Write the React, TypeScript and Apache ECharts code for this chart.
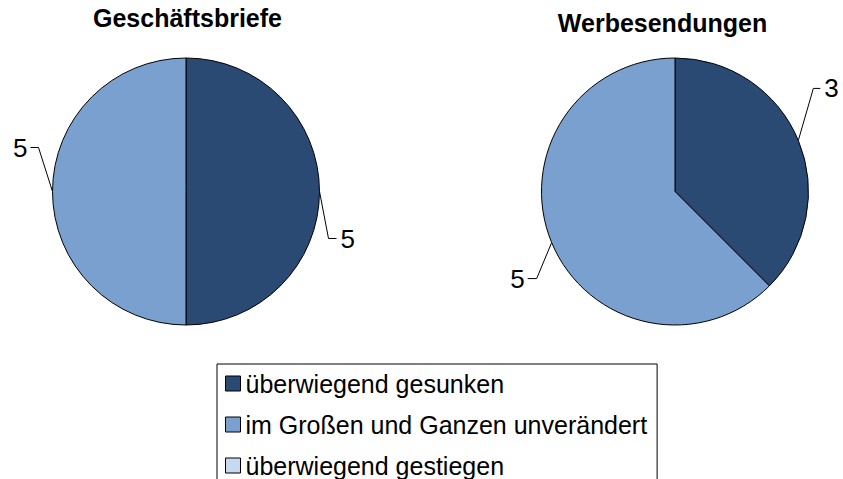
import React, { useEffect, useRef } from "react";
import * as echarts from "echarts";

const categories = [
  "überwiegend gesunken",
  "im Großen und Ganzen unverändert",
  "überwiegend gestiegen",
];
const chartTitles = ["Geschäftsbriefe", "Werbesendungen"];
const geschaeftsbriefeValues = [5, 5, 0];
const werbesendungenValues = [3, 5, 0];

const colors = ["#2a4a74", "#79a0cf", "#c6d9f1"];
const fontFamily = "'Liberation Sans', Arial, sans-serif";

// label line geometry per pie per slice: [elbow dx, elbow dy, horizontal dx]
const labelLineOffsets = [
  [
    [9, 47, 8],
    [-14, -44, -8],
  ],
  [
    [15, -52, 7],
    [-15, 36, -9],
  ],
];
const pieCenters = [
  [186, 191.5],
  [675, 191.5],
];
const pieRadius = 133.5;
const titlePositions = [
  [187.5, 5],
  [662.5, 10],
];

function makeSeries(idx: number, values: number[]) {
  return {
    type: "pie",
    name: chartTitles[idx],
    center: pieCenters[idx],
    radius: pieRadius,
    startAngle: 90,
    clockwise: true,
    avoidLabelOverlap: false,
    stillShowZeroSum: true,
    silent: true,
    itemStyle: { borderColor: "#000", borderWidth: 1 },
    label: {
      show: true,
      position: "outside",
      color: "#000",
      fontSize: 26,
      fontFamily,
      formatter: "{c}",
    },
    labelLine: {
      show: true,
      length: 10,
      length2: 8,
      smooth: false,
      lineStyle: { color: "#000", width: 1 },
    },
    labelLayout: (params: any) => {
      const off = labelLineOffsets[idx][params.dataIndex];
      const pts = params.labelLinePoints;
      if (!off || !pts || !pts.length) return {};
      const x0 = pts[0][0];
      const y0 = pts[0][1];
      const ex = x0 + off[0];
      const ey = y0 + off[1];
      const hx = ex + off[2];
      const right = off[2] > 0;
      return {
        x: hx + (right ? 4 : -3),
        y: ey,
        align: right ? "left" : "right",
        verticalAlign: "middle",
        labelLinePoints: [
          [x0, y0],
          [ex, ey],
          [hx, ey],
        ],
      };
    },
    data: categories.map((name, i) =>
      values[i] > 0
        ? { name, value: values[i] }
        : {
            name,
            value: values[i],
            label: { show: false },
            labelLine: { show: false },
            itemStyle: { borderWidth: 0 },
          }
    ),
  };
}

export default function App() {
  const ref = useRef<HTMLDivElement>(null);
  useEffect(() => {
    if (!ref.current) return;
    const chart = echarts.init(ref.current, null, { renderer: "svg" });
    chart.setOption({
      animation: false,
      backgroundColor: "#fff",
      color: colors,
      title: chartTitles.map((t, i) => ({
        text: t,
        left: titlePositions[i][0],
        top: titlePositions[i][1],
        textAlign: "center",
        padding: 0,
        textStyle: {
          fontSize: 25,
          fontWeight: "bold",
          color: "#000",
          fontFamily,
        },
      })),
      legend: {
        orient: "vertical",
        left: 217,
        top: 364,
        data: categories,
        icon: "rect",
        itemWidth: 15,
        itemHeight: 15,
        itemGap: 16,
        padding: [7, 10, 10, 8],
        borderColor: "#000",
        borderWidth: 1,
        backgroundColor: "#fff",
        selectedMode: false,
        itemStyle: { borderColor: "#000", borderWidth: 1 },
        textStyle: { fontSize: 25, lineHeight: 24, color: "#000", fontFamily },
      },
      series: [
        makeSeries(0, geschaeftsbriefeValues),
        makeSeries(1, werbesendungenValues),
      ],
    });
    return () => chart.dispose();
  }, []);
  return (
    <div
      ref={ref}
      style={{ position: "fixed", left: 0, top: 0, width: 843, height: 500 }}
    />
  );
}
